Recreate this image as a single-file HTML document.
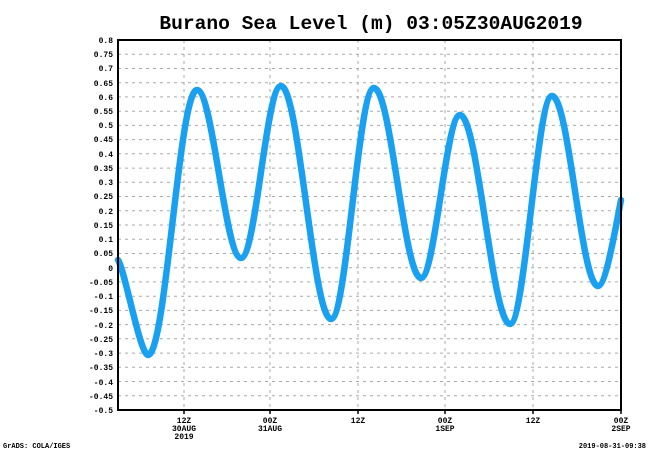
<!DOCTYPE html>
<html><head><meta charset="utf-8"><style>
html,body{margin:0;padding:0;background:#fff;}
svg{display:block;}
text{font-family:"Liberation Mono","DejaVu Sans Mono",monospace;font-weight:bold;fill:#000;}
</style></head><body>
<svg width="650" height="450" viewBox="0 0 650 450" xmlns="http://www.w3.org/2000/svg">
<rect width="650" height="450" fill="#fff"/>
<text x="371" y="29" text-anchor="middle" style="font-family:'Liberation Mono',monospace;font-size:19.6px;font-weight:bold">Burano Sea Level (m) 03:05Z30AUG2019</text>
<g stroke="#aaa" stroke-width="1" stroke-dasharray="3,4">
<line x1="118" x2="621" y1="54.2" y2="54.2"/><line x1="118" x2="621" y1="68.5" y2="68.5"/><line x1="118" x2="621" y1="82.7" y2="82.7"/><line x1="118" x2="621" y1="96.9" y2="96.9"/><line x1="118" x2="621" y1="111.2" y2="111.2"/><line x1="118" x2="621" y1="125.4" y2="125.4"/><line x1="118" x2="621" y1="139.6" y2="139.6"/><line x1="118" x2="621" y1="153.8" y2="153.8"/><line x1="118" x2="621" y1="168.1" y2="168.1"/><line x1="118" x2="621" y1="182.3" y2="182.3"/><line x1="118" x2="621" y1="196.5" y2="196.5"/><line x1="118" x2="621" y1="210.8" y2="210.8"/><line x1="118" x2="621" y1="225" y2="225"/><line x1="118" x2="621" y1="239.2" y2="239.2"/><line x1="118" x2="621" y1="253.5" y2="253.5"/><line x1="118" x2="621" y1="267.7" y2="267.7"/><line x1="118" x2="621" y1="281.9" y2="281.9"/><line x1="118" x2="621" y1="296.2" y2="296.2"/><line x1="118" x2="621" y1="310.4" y2="310.4"/><line x1="118" x2="621" y1="324.6" y2="324.6"/><line x1="118" x2="621" y1="338.8" y2="338.8"/><line x1="118" x2="621" y1="353.1" y2="353.1"/><line x1="118" x2="621" y1="367.3" y2="367.3"/><line x1="118" x2="621" y1="381.5" y2="381.5"/><line x1="118" x2="621" y1="395.8" y2="395.8"/>
<line x1="184" x2="184" y1="40" y2="410"/><line x1="270" x2="270" y1="40" y2="410"/><line x1="358" x2="358" y1="40" y2="410"/><line x1="445" x2="445" y1="40" y2="410"/><line x1="533" x2="533" y1="40" y2="410"/>
</g>
<path d="M118,260 C125,270 140,355 148,355 C166,355 179,90 197,90 C213,90 225,258 241,258 C256,258 266,86 281,86 C299,86 313,319 331,319 C347,319 358,88 374,88 C391,88 404,278 421,278 C435,278 446,115 460,115 C478,115 492,324 510,324 C525,324 537,96 552,96 C569,96 581,286 598,286 C606,286 616,225 621,200" fill="none" stroke="#1aa0f0" stroke-width="6.5" stroke-linecap="round"/>
<rect x="118" y="40" width="503" height="370" fill="none" stroke="#000" stroke-width="2"/>
<g stroke="#000" stroke-width="1.5">
<line x1="184" x2="184" y1="410" y2="414"/><line x1="270" x2="270" y1="410" y2="414"/><line x1="358" x2="358" y1="410" y2="414"/><line x1="445" x2="445" y1="410" y2="414"/><line x1="533" x2="533" y1="410" y2="414"/><line x1="621" x2="621" y1="410" y2="414"/>
</g>
<g font-size="8" text-anchor="end">
<text x="113" y="43">0.8</text><text x="113" y="57">0.75</text><text x="113" y="71">0.7</text><text x="113" y="86">0.65</text><text x="113" y="100">0.6</text><text x="113" y="114">0.55</text><text x="113" y="128">0.5</text><text x="113" y="142">0.45</text><text x="113" y="157">0.4</text><text x="113" y="171">0.35</text><text x="113" y="185">0.3</text><text x="113" y="199">0.25</text><text x="113" y="214">0.2</text><text x="113" y="228">0.15</text><text x="113" y="242">0.1</text><text x="113" y="256">0.05</text><text x="113" y="271">0</text><text x="113" y="285">-0.05</text><text x="113" y="299">-0.1</text><text x="113" y="313">-0.15</text><text x="113" y="328">-0.2</text><text x="113" y="342">-0.25</text><text x="113" y="356">-0.3</text><text x="113" y="370">-0.35</text><text x="113" y="385">-0.4</text><text x="113" y="399">-0.45</text><text x="113" y="413">-0.5</text>
</g>
<g font-size="8" text-anchor="middle">
<text x="184" y="423">12Z</text><text x="184" y="431">30AUG</text><text x="184" y="439">2019</text>
<text x="270" y="423">00Z</text><text x="270" y="431">31AUG</text>
<text x="358" y="423">12Z</text>
<text x="445" y="423">00Z</text><text x="445" y="431">1SEP</text>
<text x="533" y="423">12Z</text>
<text x="621" y="423">00Z</text><text x="621" y="431">2SEP</text>
</g>
<text x="3" y="448" font-size="7">GrADS: COLA/IGES</text>
<text x="646" y="448" font-size="7" text-anchor="end">2019-08-31-09:38</text>
</svg>
</body></html>
